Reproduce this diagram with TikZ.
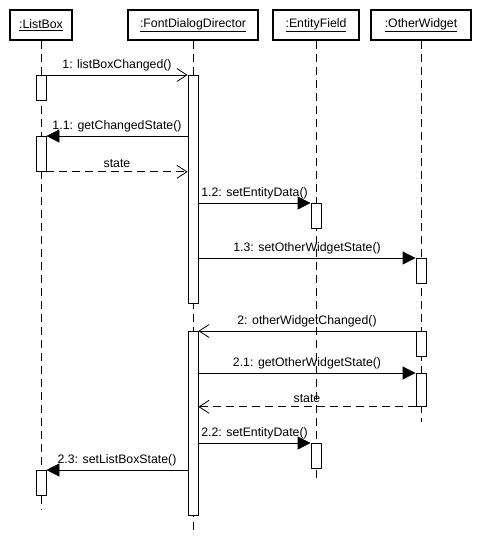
\documentclass[tikz,border=0pt]{standalone}
\usepackage{fontspec}
\setmainfont{Liberation Sans}
\usetikzlibrary{arrows.meta}

\tikzset{
  obj/.style={draw, line width=2.2pt, minimum height=30pt, inner sep=0pt,
    font=\fontsize{12.3}{14}\selectfont},
  act/.style={draw, fill=white, line width=0.8pt, minimum width=10pt,
    inner sep=0pt, anchor=north},
  life/.style={line width=0.8pt, dash pattern=on 8pt off 5pt},
  call/.style={line width=0.8pt, -{Triangle[length=13pt,width=13pt]}},
  signal/.style={line width=0.8pt, -{Straight Barb[length=10pt,width=13pt]}},
  reply/.style={signal, dash pattern=on 8pt off 5pt},
  msg/.style={midway, above=4pt, inner sep=0pt,
    font=\fontsize{12.3}{14}\selectfont}
}

\begin{document}
\begin{tikzpicture}[x=1pt, y=-1pt]
  \useasboundingbox (0,0) rectangle (480,541);

  % objects
  \node[obj, minimum width=62pt] (lb) at (41,25) {\underline{:ListBox}};
  \node[obj, minimum width=130pt] (fd) at (193,25) {\underline{:FontDialogDirector}};
  \node[obj, minimum width=86pt] (ef) at (316,25) {\underline{:EntityField}};
  \node[obj, minimum width=100pt] (ow) at (421,25) {\underline{:OtherWidget}};

  % lifelines
  \coordinate (lbend) at (lb |- 0,510);
  \coordinate (fdend) at (fd |- 0,532);
  \coordinate (efend) at (ef |- 0,483);
  \coordinate (owend) at (ow |- 0,422);
  \draw[life] (lb.south) -- (lbend);
  \draw[life] (fd.south) -- (fdend);
  \draw[life] (ef.south) -- (efend);
  \draw[life] (ow.south) -- (owend);

  % activations
  \node[act, minimum height=25pt] (lb1) at (lb |- 0,75) {};
  \node[act, minimum height=35pt] (lb2) at (lb |- 0,136) {};
  \node[act, minimum height=25pt] (lb3) at (lb |- 0,470) {};
  \node[act, minimum height=228pt] (fd1) at (fd |- 0,75) {};
  \node[act, minimum height=184pt] (fd2) at (fd |- 0,331) {};
  \node[act, minimum height=25pt] (ef1) at (ef |- 0,203) {};
  \node[act, minimum height=25pt] (ef2) at (ef |- 0,443) {};
  \node[act, minimum height=25pt] (ow1) at (ow |- 0,258) {};
  \node[act, minimum height=25pt] (ow2) at (ow |- 0,331) {};
  \node[act, minimum height=33pt] (ow3) at (ow |- 0,373) {};

  % messages
  \draw[signal] (lb1.north east) -- (fd1.north west) node[msg] {1: listBoxChanged()};
  \draw[call] (fd1.west |- lb2.north) -- (lb2.north east) node[msg] {1.1: getChangedState()};
  \draw[reply] (lb2.south east) -- (lb2.south east -| fd1.west) node[msg] {state};
  \draw[call] (fd1.east |- ef1.north) -- (ef1.north west) node[msg] {1.2: setEntityData()};
  \draw[call] (fd1.east |- ow1.north) -- (ow1.north west) node[msg] {1.3: setOtherWidgetState()};
  \draw[signal] (ow2.north west) -- (fd2.north east) node[msg] {2: otherWidgetChanged()};
  \draw[call] (fd2.east |- ow3.north) -- (ow3.north west) node[msg] {2.1: getOtherWidgetState()};
  \draw[reply] (ow3.south west) -- (ow3.south west -| fd2.east) node[msg] {state};
  \draw[call] (fd2.east |- ef2.north) -- (ef2.north west) node[msg] {2.2: setEntityDate()};
  \draw[call] (fd2.west |- lb3.north) -- (lb3.north east) node[msg] {2.3: setListBoxState()};
\end{tikzpicture}
\end{document}
